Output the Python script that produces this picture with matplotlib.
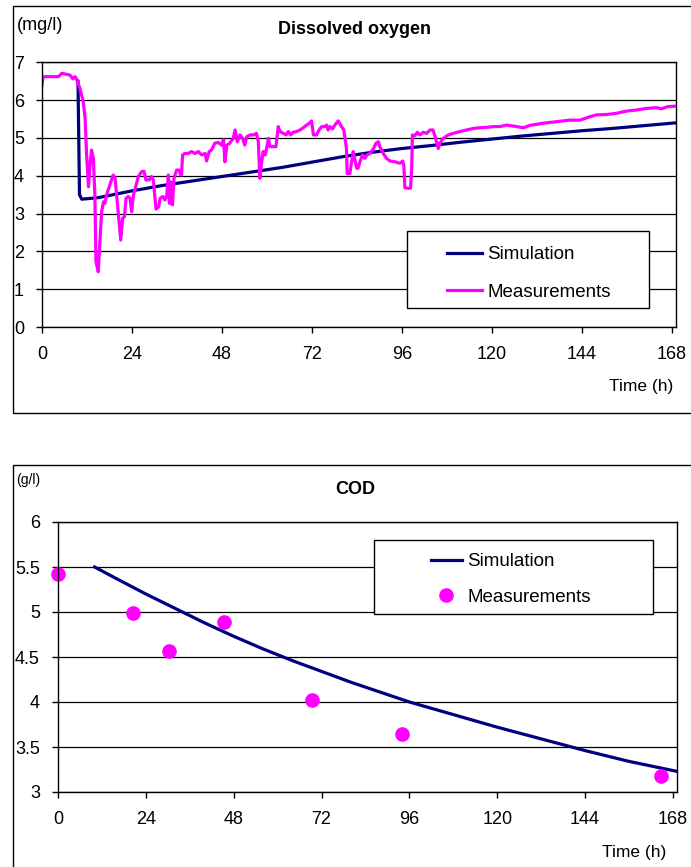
import matplotlib
matplotlib.use("Agg")
import matplotlib.pyplot as plt
from matplotlib.patches import Rectangle

plt.rcParams['font.family'] = ['Liberation Sans', 'DejaVu Sans']

# ---- dissolved oxygen (mg/l) ----
do_sim_t = [9.6, 10.0, 10.6, 15, 24, 32, 40, 48, 56, 64, 72, 80, 88, 96,
            104, 112, 120, 128, 136, 144, 152, 160, 169.2]
do_sim_v = [6.50, 3.50, 3.38, 3.42, 3.60, 3.74, 3.86, 3.98, 4.10, 4.22, 4.36,
            4.50, 4.62, 4.72, 4.80, 4.89, 4.97, 5.05, 5.12, 5.19, 5.25, 5.32, 5.40]

do_meas_t = [0.0, 0.3, 4.4, 5.3, 7.5, 8.2, 8.8, 9.2, 10.1, 11.0, 11.5, 11.9, 12.4,
             12.8, 13.2, 13.7, 14.1, 14.4, 15.0, 15.5, 15.9, 16.4, 16.8, 17.2, 18.1,
             19.0, 19.5, 19.9, 20.4, 21.0, 21.5, 22.0, 22.4, 23.0, 23.5, 23.9, 24.4,
             25.1, 25.7, 26.6, 27.2, 27.7, 28.6, 29.2, 29.7, 30.4, 31.1, 31.5, 32.2,
             32.8, 33.3, 33.7, 34.0, 34.3, 34.6, 34.8, 35.2, 35.9, 36.6, 37.0, 37.2,
             37.5, 38.1, 39.0, 39.9, 40.8, 41.7, 42.6, 43.5, 43.9, 44.6, 45.2, 46.1,
             47.0, 47.9, 48.4, 48.8, 49.3, 50.1, 51.0, 51.5, 52.1, 52.8, 53.5, 54.1,
             54.6, 55.5, 56.4, 57.2, 57.7, 58.1, 58.6, 59.0, 59.5, 59.9, 60.4, 60.8,
             61.7, 62.4, 63.0, 63.5, 64.4, 65.1, 65.7, 66.3, 67.0, 67.9, 68.8, 69.7,
             70.6, 71.3, 71.9, 72.4, 73.2, 73.9, 74.6, 75.4, 75.9, 76.3, 76.8, 77.5,
             78.1, 79.0, 79.9, 80.5, 81.2, 81.4, 82.1, 82.6, 83.0, 83.4, 83.9, 84.3,
             84.8, 85.5, 86.1, 86.7, 87.5, 88.4, 89.1, 89.7, 90.1, 91.0, 91.9, 92.8,
             94.1, 95.5, 96.2, 96.5, 96.8, 97.7, 98.3, 98.6, 98.8, 99.5, 100.1, 100.8,
             101.7, 102.6, 103.5, 104.3, 105.1, 105.7, 106.1, 107.0, 108.4, 109.7,
             111.5, 113.2, 115.0, 116.8, 118.6, 120.4, 122.2, 123.9, 126.6, 128.4,
             130.1, 133.7, 137.2, 140.8, 143.5, 146.1, 147.9, 150.6, 153.2, 155.9,
             158.6, 161.2, 163.9, 165.2, 167.0, 169.2]
do_meas_v = [6.40, 6.62, 6.62, 6.71, 6.66, 6.56, 6.62, 6.56, 6.31, 5.96, 5.52, 4.55, 3.71,
             4.28, 4.68, 4.46, 3.49, 1.73, 1.46, 2.34, 3.05, 3.31, 3.27, 3.49, 3.76,
             4.02, 3.93, 3.49, 2.96, 2.30, 2.87, 2.92, 3.40, 3.45, 3.40, 3.05, 3.49,
             3.76, 3.98, 4.11, 4.12, 3.89, 3.89, 3.98, 3.89, 3.12, 3.18, 3.40, 3.45,
             3.36, 3.49, 4.02, 3.27, 3.84, 3.27, 3.23, 3.93, 4.15, 4.15, 4.02, 4.02,
             4.55, 4.59, 4.59, 4.64, 4.59, 4.64, 4.55, 4.59, 4.39, 4.64, 4.68, 4.86,
             4.88, 4.81, 4.95, 4.37, 4.81, 4.86, 4.99, 5.21, 4.90, 5.08, 4.99, 4.81,
             5.03, 5.08, 5.08, 5.12, 4.90, 3.93, 4.37, 4.64, 4.55, 4.72, 4.99, 4.77,
             4.77, 4.77, 5.30, 5.17, 5.12, 5.08, 5.17, 5.08, 5.15, 5.17, 5.21, 5.27,
             5.34, 5.39, 5.45, 5.08, 5.08, 5.21, 5.30, 5.30, 5.34, 5.21, 5.30, 5.24,
             5.34, 5.45, 5.30, 5.21, 4.72, 4.06, 4.06, 4.37, 4.64, 4.46, 4.20, 4.20,
             4.37, 4.55, 4.46, 4.55, 4.59, 4.72, 4.86, 4.90, 4.77, 4.59, 4.46, 4.39,
             4.37, 4.33, 4.39, 4.28, 3.68, 3.67, 3.67, 4.20, 5.08, 5.06, 5.15, 5.08,
             5.15, 5.12, 5.21, 5.21, 4.95, 4.72, 4.86, 4.99, 5.08, 5.12,
             5.17, 5.21, 5.25, 5.27, 5.28, 5.30, 5.30, 5.34, 5.30, 5.27,
             5.33, 5.39, 5.43, 5.47, 5.47, 5.56, 5.61, 5.62, 5.65, 5.71,
             5.74, 5.78, 5.80, 5.77, 5.83, 5.84]

# ---- COD (g/l) ----
cod_sim_t = [10, 16, 24, 32, 40, 48, 56, 64, 72, 80, 88, 96, 108, 120, 132, 144, 156, 169]
cod_sim_v = [5.50, 5.37, 5.20, 5.04, 4.88, 4.73, 4.59, 4.46, 4.34, 4.22, 4.11, 4.00,
             3.86, 3.72, 3.59, 3.46, 3.34, 3.23]
cod_meas_t = [0, 20.5, 30.3, 45.4, 69.4, 93.9, 164.6]
cod_meas_v = [5.42, 4.99, 4.57, 4.885, 4.02, 3.64, 3.18]

x_ticks = [0, 24, 48, 72, 96, 120, 144, 168]

NAVY = '#000080'
MAG = '#ff00ff'
W, H = 691, 867


def fx(px):
    return px / W


def fy(py):
    return 1 - py / H


fig = plt.figure(figsize=(6.91, 8.67), dpi=100)

# outer chart frames
fig.patches.append(Rectangle((fx(13), fy(413)), 1.0, 407 / H, transform=fig.transFigure,
                             fill=False, ec='black', lw=1.0, zorder=0))
fig.patches.append(Rectangle((fx(13), -0.05), 1.0, fy(465) + 0.05, transform=fig.transFigure,
                             fill=False, ec='black', lw=1.0, zorder=0))


def style_axes(ax, ylim, yticks, yfmt):
    ax.set_xlim(0, 169.1)
    ax.set_ylim(*ylim)
    ax.set_xticks(x_ticks)
    ax.set_yticks(yticks)
    ax.set_yticklabels([yfmt(v) for v in yticks])
    ax.grid(axis='y', color='black', lw=0.9)
    for s in ax.spines.values():
        s.set_linewidth(1.0)
    ax.tick_params(axis='both', direction='out', length=4, width=1, labelsize=13)
    ax.tick_params(axis='x', pad=10)
    ax.tick_params(axis='y', pad=9)


# top chart
ax1 = fig.add_axes([fx(42), fy(327), (676 - 42) / W, (327 - 62.3) / H])
l1, = ax1.plot(do_sim_t, do_sim_v, color=NAVY, lw=2.3, label='Simulation')
l2, = ax1.plot(do_meas_t, do_meas_v, color=MAG, lw=2.3, label='Measurements')
style_axes(ax1, (0, 7), list(range(0, 8)), lambda v: f'{v:d}')

fig.text(fx(17), fy(25), '(mg/l)', fontsize=13, ha='left', va='center')
fig.text(fx(355), fy(30), 'Dissolved oxygen', fontsize=13, fontweight='bold',
         ha='center', va='center')
fig.text(fx(673), fy(386), 'Time (h)', fontsize=12.5, ha='right', va='center')

fig.patches.append(Rectangle((fx(407), fy(308)), (649 - 407) / W, (308 - 231) / H,
                             transform=fig.transFigure, fc='white', ec='black', lw=1.0, zorder=2))
fig.legend([l1, l2], ['Simulation', 'Measurements'], loc='upper left',
           bbox_to_anchor=(fx(447), fy(246)), bbox_transform=fig.transFigure,
           frameon=False, borderpad=0, borderaxespad=0, fontsize=13.5,
           handlelength=1.85, handletextpad=0.3, labelspacing=1.1)

# bottom chart
ax2 = fig.add_axes([fx(58), fy(792), (677 - 58) / W, (792 - 522) / H])
l3, = ax2.plot(cod_sim_t, cod_sim_v, color=NAVY, lw=2.3, label='Simulation')
l4, = ax2.plot(cod_meas_t, cod_meas_v, 'o', color=MAG, ms=9.5, ls='none',
               label='Measurements', clip_on=False)
style_axes(ax2, (3, 6), [3, 3.5, 4, 4.5, 5, 5.5, 6], lambda v: f'{v:g}')

fig.text(fx(16), fy(480), '(g/l)', fontsize=10, ha='left', va='center')
fig.text(fx(355), fy(489), 'COD', fontsize=13, fontweight='bold', ha='center', va='center')
fig.text(fx(666), fy(852), 'Time (h)', fontsize=12.5, ha='right', va='center')

fig.patches.append(Rectangle((fx(374), fy(614)), (653 - 374) / W, (614 - 540) / H,
                             transform=fig.transFigure, fc='white', ec='black', lw=1.0, zorder=2))
fig.legend([l3, l4], ['Simulation', 'Measurements'], loc='upper left',
           bbox_to_anchor=(fx(431), fy(553)), bbox_transform=fig.transFigure,
           frameon=False, borderpad=0, borderaxespad=0, fontsize=13.5,
           handlelength=1.65, handletextpad=0.3, labelspacing=1.0, numpoints=1)

fig.savefig('out.png', dpi=100)
